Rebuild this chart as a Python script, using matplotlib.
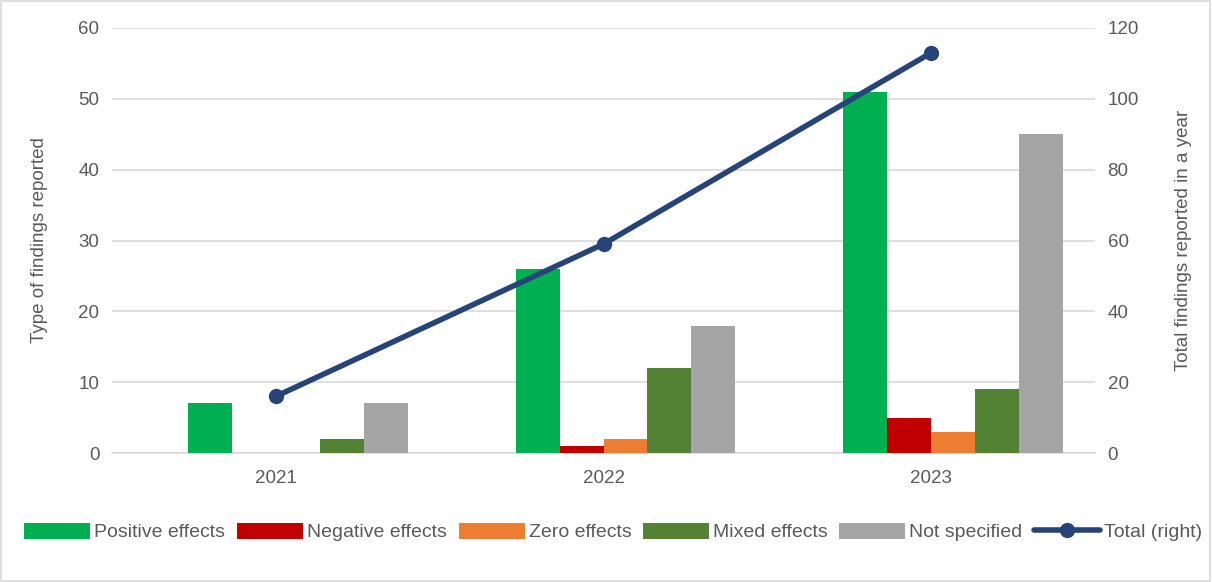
import numpy as np
import matplotlib.pyplot as plt
from matplotlib.patches import Rectangle

years = ["2021", "2022", "2023"]
series_names = ["Positive effects", "Negative effects", "Zero effects", "Mixed effects", "Not specified"]
positive = [7, 26, 51]
negative = [0, 1, 5]
zero = [0, 2, 3]
mixed = [2, 12, 9]
not_specified = [7, 18, 45]
total = [16, 59, 113]

colors = ["#00b050", "#c00000", "#ed7d31", "#548235", "#a5a5a5"]
line_color = "#264478"
text_color = "#595959"

plt.rcParams["font.family"] = ["Liberation Sans", "DejaVu Sans"]

fig = plt.figure(figsize=(12.12, 5.82), dpi=100)
ax = fig.add_axes([0.0924, 0.2216, 0.8111, 0.7303])
ax2 = ax.twinx()

x = np.arange(len(years))
w = 0.134
# six slots per group, first one left empty (as in the original Excel chart)
for i, (name, vals) in enumerate(zip(series_names, [positive, negative, zero, mixed, not_specified])):
    offset = (i + 1 - 2.5) * w
    ax.bar(x + offset, vals, width=w, color=colors[i], label=name, zorder=3)

ax2.plot(x, total, color=line_color, lw=4, marker="o", ms=10, label="Total (right)",
         solid_capstyle="round", zorder=4)

ax.set_xlim(-0.5, 2.5)
ax.set_ylim(0, 60)
ax2.set_ylim(0, 120)
ax.set_yticks(range(0, 61, 10))
ax2.set_yticks(range(0, 121, 20))
ax.set_xticks(x)
ax.set_xticklabels(years)
ax.grid(axis="y", color="#d9d9d9", lw=1.2, zorder=0)
ax.set_axisbelow(True)

for a in (ax, ax2):
    for s in a.spines.values():
        s.set_visible(False)
    a.tick_params(length=0, labelsize=13.5, colors=text_color, pad=9)
ax.spines["bottom"].set_visible(True)
ax.spines["bottom"].set_color("#d9d9d9")
ax.spines["bottom"].set_linewidth(1.2)
ax.tick_params(axis="x", pad=12)

ax.set_ylabel("Type of findings reported", fontsize=13.5, color=text_color, labelpad=22)
ax2.set_ylabel("Total findings reported in a year", fontsize=13.5, color=text_color, labelpad=26)

h1, l1 = ax.get_legend_handles_labels()
h2, l2 = ax2.get_legend_handles_labels()
fig.legend(h1 + h2, l1 + l2, loc="center", bbox_to_anchor=(0.506, 0.086), ncol=6,
           frameon=False, fontsize=14, labelcolor=text_color, handlelength=3.4,
           handleheight=0.9, handletextpad=0.2, columnspacing=0.6)

fig.patches.append(Rectangle((0.001, 0.002), 0.997, 0.996, transform=fig.transFigure,
                             fill=False, edgecolor="#d9d9d9", lw=1.2))

fig.savefig("out.png", dpi=100)
